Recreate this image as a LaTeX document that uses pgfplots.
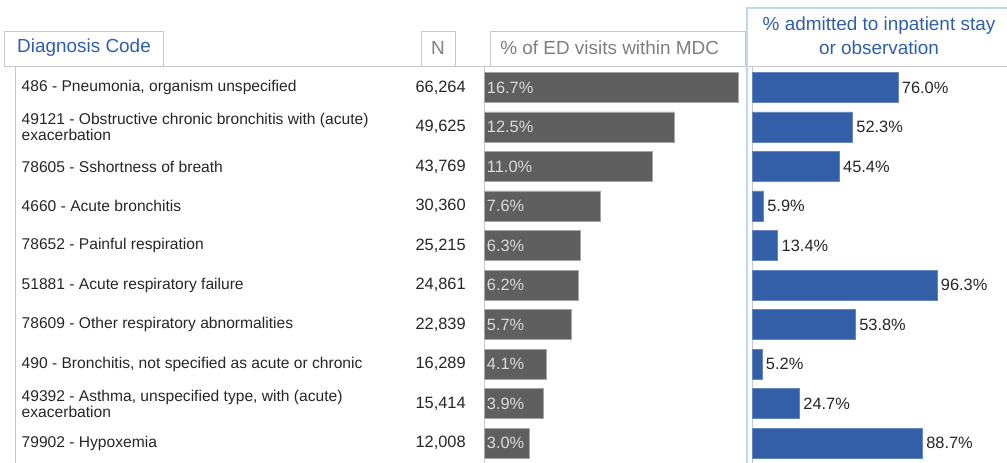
\documentclass[border=0pt]{standalone}
\usepackage{pgfplots}
\pgfplotsset{compat=1.18}
\usepackage{pgfplotstable}
\usepackage{fontspec}
\setmainfont{Liberation Sans}

\definecolor{hdrblue}{HTML}{2F5FAA}
\definecolor{barblue}{HTML}{325FA8}
\definecolor{bargrey}{HTML}{5F5F5F}
\definecolor{txtgrey}{HTML}{7F7F7F}
\definecolor{linegrey}{HTML}{C8C8C8}
\definecolor{lightblue}{HTML}{BDD7EE}
\definecolor{bodytxt}{HTML}{262626}

% row, count, % of ED visits within MDC, % admitted
\pgfplotstableread{
row N     ed   adm
1   66264 16.7 76.0
2   49625 12.5 52.3
3   43769 11.0 45.4
4   30360 7.6  5.9
5   25215 6.3  13.4
6   24861 6.2  96.3
7   22839 5.7  53.8
8   16289 4.1  5.2
9   15414 3.9  24.7
10  12008 3.0  88.7
}\diag

\newcommand\bodyfont{\fontsize{11.7}{12}\selectfont}
\newcommand\numfont{\fontsize{12.3}{12}\selectfont}
\newcommand\hdrfont{\fontsize{14.2}{18}\selectfont}

\begin{document}
\begin{tikzpicture}[x=0.75pt,y=0.75pt]
\useasboundingbox (0,0) rectangle (1007,463);

% header tabs (1 unit = 1 px, y measured from the bottom)
\draw[linegrey, fill=white] (4,397) rectangle (163,432);
\node[text=hdrblue, font=\hdrfont] at (84,415) {Diagnosis Code};
\draw[linegrey, fill=white] (421,397) rectangle (455,432);
\node[text=txtgrey, font=\hdrfont] at (438,415) {N};
\draw[linegrey, fill=white] (490,397) rectangle (745,432);
\node[text=txtgrey, font=\hdrfont, anchor=west, inner sep=0pt] at (500,415) {\% of ED visits within MDC};
\node[text=hdrblue, font=\hdrfont, align=center] at (879,427) {\% admitted to inpatient stay\\or observation};

\draw[linegrey] (4,397) -- (1007,397);
\draw[linegrey] (484,0) -- (484,397);

\begin{axis}[
  at={(11.25pt,0pt)}, anchor=south west,
  scale only axis, width=549.75pt, height=297.75pt,
  xmin=-30.75, xmax=17.31, ymin=0.456, ymax=10.506, y dir=reverse,
  axis x line=none, axis y line=left,
  axis line style={draw=linegrey,-},
  ytick={1,...,10}, major tick length=0,
  yticklabels={
    {486 - Pneumonia, organism unspecified},
    {49121 - Obstructive chronic bronchitis with (acute)\\exacerbation},
    {78605 - Sshortness of breath},
    {4660 - Acute bronchitis},
    {78652 - Painful respiration},
    {51881 - Acute respiratory failure},
    {78609 - Other respiratory abnormalities},
    {490 - Bronchitis, not specified as acute or chronic},
    {49392 - Asthma, unspecified type, with (acute)\\exacerbation},
    {79902 - Hypoxemia}},
  yticklabel style={anchor=west, align=left, font=\bodyfont, text=bodytxt, xshift=1.5pt},
  bar width=22.5pt, clip=false,
  /pgf/number format/assume math mode=true,
]
\addplot[xbar, fill=bargrey, draw=gray!70] table[x=ed, y=row] {\diag};
\addplot[draw=none, mark=none, point meta=\thisrow{ed},
  nodes near coords={\pgfmathprintnumber[fixed,zerofill,precision=1]{\pgfplotspointmeta}\%},
  nodes near coords style={anchor=west, font=\numfont, text=black!14, inner sep=2pt}]
  table[x expr=0, y=row] {\diag};
\addplot[draw=none, mark=none, point meta=\thisrow{N},
  nodes near coords={\pgfmathprintnumber[fixed,precision=0,1000 sep={,}]{\pgfplotspointmeta}},
  nodes near coords style={anchor=east, font=\numfont, text=bodytxt, inner sep=0pt}]
  table[x expr=-1.18, y=row] {\diag};
\end{axis}

\begin{axis}[
  at={(564pt,0pt)}, anchor=south west,
  scale only axis, width=191.25pt, height=297.75pt,
  xmin=0, xmax=132.8, ymin=0.456, ymax=10.506, y dir=reverse,
  axis x line=none, axis y line=left,
  axis line style={draw=linegrey,-},
  ytick=\empty, bar width=22.5pt, clip=false,
  /pgf/number format/assume math mode=true,
]
\addplot[xbar, fill=barblue, draw=barblue!75!white, point meta=x,
  nodes near coords={\pgfmathprintnumber[fixed,zerofill,precision=1]{\pgfplotspointmeta}\%},
  nodes near coords style={anchor=west, font=\numfont, text=bodytxt, inner sep=2.8pt}]
  table[x=adm, y=row] {\diag};
\end{axis}

% highlighted column frame
\draw[lightblue, line width=1.9pt] (747,0) -- (747,455) -- (1007,455);
\end{tikzpicture}
\end{document}
